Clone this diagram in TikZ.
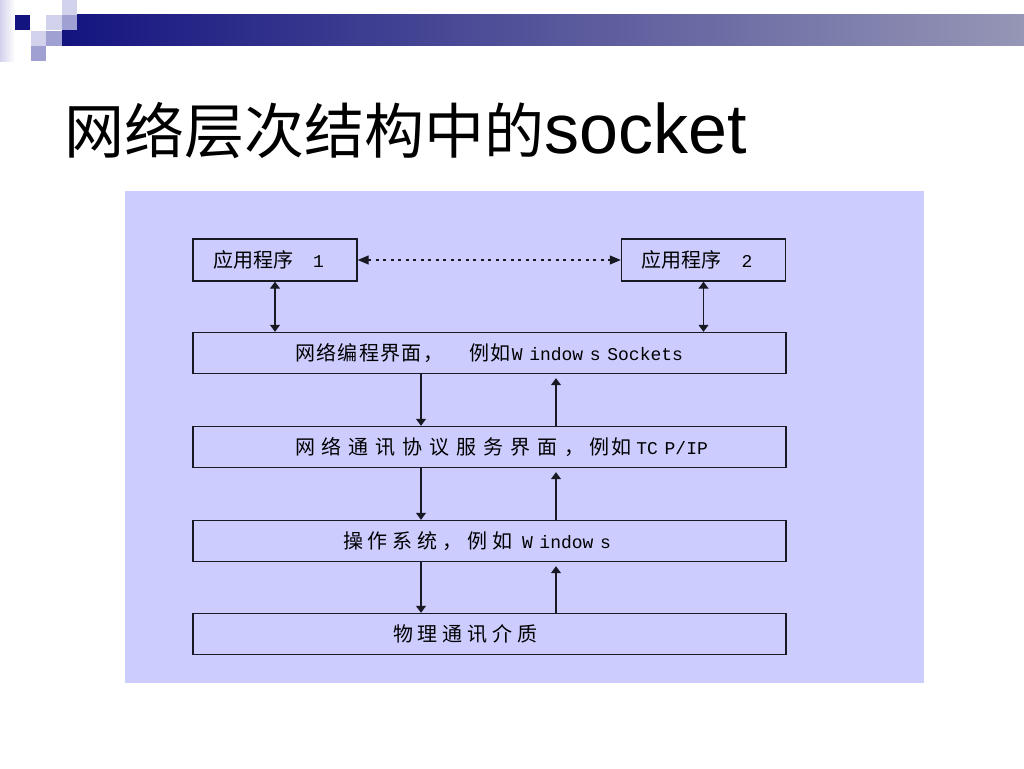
\documentclass[tikz,border=0pt]{standalone}
\usepackage{fontspec}
\setmainfont{Liberation Sans}
\newfontfamily\cjk{Noto Sans CJK SC}
\newfontfamily\cjkmid[LetterSpace=7]{Noto Sans CJK SC}
\newfontfamily\cjkwide[LetterSpace=25]{Noto Sans CJK SC}
\newfontfamily\cjkwider[LetterSpace=35]{Noto Sans CJK SC}
\newfontfamily\mono{Liberation Mono}
\usetikzlibrary{positioning}
\usetikzlibrary{arrows.meta}
\definecolor{panel}{RGB}{204,204,255}
\definecolor{navy}{RGB}{20,20,128}
\definecolor{barend}{RGB}{150,150,182}
\definecolor{sqlight}{RGB}{210,210,236}
\definecolor{sqmid}{RGB}{160,160,210}
\definecolor{ink}{RGB}{25,25,35}
\tikzset{box/.style = {draw=ink, line width=1.4pt, inner sep=0, align=left,
    font=\fontsize{20}{24}\selectfont, text=black},
  appbox/.style = {box, minimum width=164pt, text width=164pt, minimum height=42pt},
  layer/.style = {box, minimum width=593pt, text width=593pt, minimum height=41pt},
  arr/.style = {ink, line width=1.2pt, -{Triangle[length=7pt,width=10pt]}},
  darr/.style = {ink, line width=1.2pt, {Triangle[length=7pt,width=10pt]}-{Triangle[length=7pt,width=10pt]}},
  peer/.style = {ink, line width=1.2pt, dash pattern=on 3pt off 4.5pt,
    {Triangle[length=11pt,width=9pt]}-{Triangle[length=11pt,width=9pt]}}
}
\newcommand{\lat}[1]{{\mono\fontsize{18}{22}\selectfont #1}}

\begin{document}
\begin{tikzpicture}[x=1pt, y=-1pt]
    \useasboundingbox[fill=white] (0,0) rectangle (1024,768);

    % header bar
    \shade[left color=sqlight, right color=white] (0,0) rectangle (15,61);
    \shade[left color=navy, right color=barend] (62,15) rectangle (1024,46);
    \fill[sqlight] (62,0) rectangle (77,15);
    \fill[navy] (15,15) rectangle (30,30);
    \fill[sqlight] (46,15) rectangle (62,30);
    \fill[sqmid] (62,15) rectangle (77,30);
    \fill[sqlight] (31,31) rectangle (46,46);
    \fill[sqmid] (46,31) rectangle (62,46);
    \fill[sqmid] (31,46) rectangle (46,61);

    \node[anchor=base west, inner sep=0] (title) at (64,153)
      {\fontsize{60}{66}\selectfont\cjk 网络层次结构中的\fontsize{70}{80}\selectfont\rmfamily socket};

    \fill[panel] (125,191) rectangle (924,683);

    \node[appbox] (app1) at (275,260) {\hspace*{20pt}{\cjk 应用程序}\hspace{20pt}\lat{1}};
    \node[appbox] (app2) at (703.5,260) {\hspace*{20pt}{\cjk 应用程序}\hspace{20pt}\lat{2}};
    \node[layer] (api) at (489.5,353)
      {\hspace*{102pt}{\cjkmid 网络编程界面，}\hspace{26pt}{\cjkmid 例如}\hspace{1pt}\lat{W indow s Sockets}};
    \node[layer] (proto) at (489.5,447)
      {\hspace*{102pt}{\cjkwider 网络通讯协议服务界面，}\hspace{5pt}{\cjkmid 例如}\hspace{5pt}\lat{TC P/IP}};
    \node[layer] (os) at (489.5,541)
      {\hspace*{150pt}{\cjkwide 操作系统，}{\cjkwide 例如}\hspace{9pt}\lat{W indow s}};
    \node[layer] (media) at (489.5,634) {\hspace*{200pt}{\cjkwide 物理通讯介质}};

    \coordinate (dn) at (421,0);
    \coordinate (up) at (556,0);

    \draw[peer] (app1.east) -- (app2.west);
    \draw[darr] (app1.south) -- (app1.south |- api.north);
    \draw[darr] (app2.south) -- (app2.south |- api.north);

    \foreach \a/\b in {api/proto, proto/os, os/media} {
      \draw[arr] (\a.south -| dn) -- (\b.north -| dn);
      \draw[arr, shorten >=4pt] (\b.north -| up) -- (\a.south -| up);
    }
\end{tikzpicture}
\end{document}
